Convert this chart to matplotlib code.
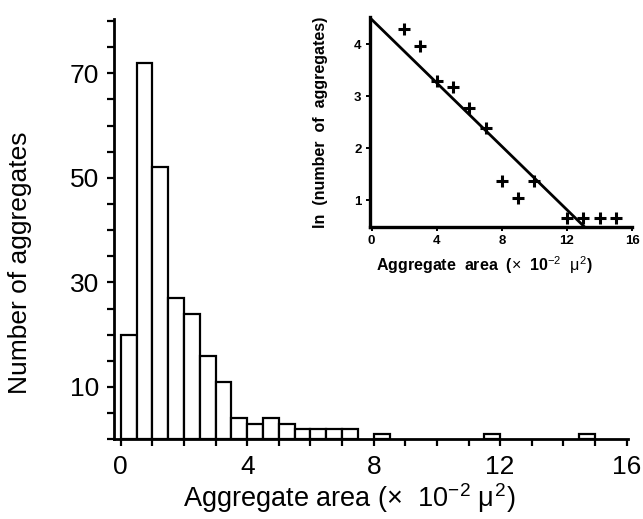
import numpy as np
import matplotlib
matplotlib.use("Agg")
from matplotlib import pyplot as plt
from matplotlib.ticker import MultipleLocator, FixedLocator

plt.rcParams['font.family'] = ['Liberation Sans', 'DejaVu Sans']
plt.rcParams['mathtext.fontset'] = 'custom'
plt.rcParams['mathtext.rm'] = 'Liberation Sans'
plt.rcParams['mathtext.it'] = 'Liberation Sans'
plt.rcParams['mathtext.bf'] = 'Liberation Sans:bold'

# histogram: left edge of each 0.5-wide bin and its count
bin_left = [0.0, 0.5, 1.0, 1.5, 2.0, 2.5, 3.0, 3.5, 4.0, 4.5, 5.0, 5.5, 6.0, 6.5, 7.0, 8.0, 11.5, 14.5]
counts = [20, 72, 52, 27, 24, 16, 11, 4, 3, 4, 3, 2, 2, 2, 2, 1, 1, 1]
bin_width = 0.5

# inset: ln(number of aggregates) vs area
ln_x = [2, 3, 4, 5, 6, 7, 8, 9, 10, 12, 13, 14, 15]
ln_y = [4.30, 3.96, 3.30, 3.18, 2.77, 2.38, 1.36, 1.04, 1.36, 0.66, 0.66, 0.66, 0.66]
fit_x = [0.0, 13.15]
fit_y = [4.48, 0.46]

fig = plt.figure(figsize=(6.43, 5.19), dpi=100)

ax = fig.add_axes([0.178, 0.1536, 0.799, 0.810])
ax.bar(bin_left, counts, width=bin_width, align='edge', facecolor='white',
       edgecolor='black', linewidth=1.6)
ax.set_xlim(-0.2, 16.05)
ax.set_ylim(0, 80.4)
for s in ['top', 'right']:
    ax.spines[s].set_visible(False)
for s in ['left', 'bottom']:
    ax.spines[s].set_linewidth(2)
ax.xaxis.set_major_locator(FixedLocator([0, 4, 8, 12, 16]))
ax.xaxis.set_minor_locator(MultipleLocator(1))
ax.yaxis.set_major_locator(FixedLocator([10, 30, 50, 70]))
ax.yaxis.set_minor_locator(MultipleLocator(5))
ax.tick_params(which='both', direction='out', width=1.6, length=5, labelsize=19, pad=6)
ax.set_xlabel(r'Aggregate area ($\times$  10$^{-2}$ $\mu^{2}$)', fontsize=19.5)
ax.xaxis.set_label_coords(0.457, -0.1)
ax.set_ylabel('Number of aggregates', fontsize=19)
ax.yaxis.set_label_coords(-0.16, 0.42)

ins = fig.add_axes([0.5754, 0.5626, 0.4076, 0.405])
ins.plot(fit_x, fit_y, color='black', linewidth=2)
ins.plot(ln_x, ln_y, linestyle='none', marker='+', markersize=8,
         markeredgewidth=2.2, color='black')
ins.set_xlim(-0.1, 16)
ins.set_ylim(0.48, 4.53)
for s in ['top', 'right']:
    ins.spines[s].set_visible(False)
for s in ['left', 'bottom']:
    ins.spines[s].set_linewidth(2.4)
ins.set_xticks([0, 4, 8, 12, 16])
ins.set_yticks([1, 2, 3, 4])
ins.tick_params(direction='out', width=1.4, length=3, labelsize=9.5, pad=3)
for lab in ins.get_xticklabels() + ins.get_yticklabels():
    lab.set_fontweight('bold')
ins.set_xlabel(r'Aggregate  area  ($\times$  10$^{-2}$  $\mu^{2}$)', fontsize=11.5,
               fontweight='bold')
ins.xaxis.set_label_coords(0.435, -0.13)
ins.set_ylabel('ln  (number  of  aggregates)', fontsize=11.5, fontweight='bold')
ins.yaxis.set_label_coords(-0.16, 0.5)

fig.savefig('out.png', dpi=100)
